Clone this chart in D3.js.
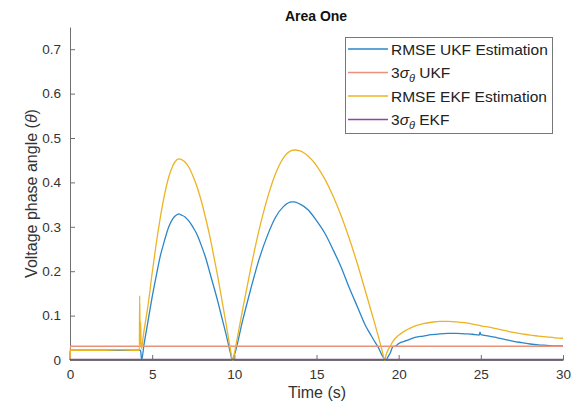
<!DOCTYPE html>
<html>
<head>
<meta charset="utf-8">
<script src="https://cdn.jsdelivr.net/npm/d3@7/dist/d3.min.js"></script>
<style>
  html, body { margin: 0; padding: 0; background: #fff; }
  svg { display: block; font-family: "Liberation Sans", Arial, Helvetica, sans-serif; }
</style>
</head>
<body>
<svg id="chart" width="573" height="403"></svg>
<script>
// Time samples (s) shared by both RMSE traces
const time = [0, 0.02, 1, 2, 3, 4, 4.22, 4.24, 4.27, 4.3, 4.33, 4.36, 4.5, 4.75,
  5.0, 5.25, 5.5, 5.75, 6.0, 6.25, 6.5, 6.63, 6.75, 7.0, 7.25, 7.5, 7.75,
  8.0, 8.25, 8.5, 8.75, 9.0, 9.25, 9.5, 9.75, 9.87, 9.93, 10.0, 10.5, 11.0,
  11.5, 12.0, 12.5, 13.0, 13.5, 13.64, 14.0, 14.5, 15.0, 15.5, 16.0, 16.5,
  17.0, 17.5, 18.0, 18.25, 18.5, 18.75, 19.0, 19.15, 19.22, 19.35, 19.5,
  19.65, 19.8, 20.0, 20.5, 21.0, 21.5, 22.0, 22.5, 23.0, 23.5, 24.0, 24.5,
  24.9, 24.95, 25.0, 25.5, 26.0, 26.5, 27.0, 27.5, 28.0, 28.5, 29.0, 29.5, 30.0];

const rmseUKF = [0, 0.022, 0.022, 0.022, 0.022, 0.022, 0.022, 0.022, 0.022, 0.020, 0.010, 0.000, 0.034, 0.088,
  0.142, 0.190, 0.235, 0.269, 0.299, 0.318, 0.327, 0.329, 0.327, 0.322, 0.312, 0.298, 0.281,
  0.257, 0.231, 0.198, 0.165, 0.131, 0.094, 0.057, 0.018, 0.000, 0.004, 0.011, 0.088, 0.160,
  0.226, 0.279, 0.321, 0.346, 0.356, 0.356, 0.351, 0.338, 0.314, 0.286, 0.249, 0.209,
  0.162, 0.119, 0.076, 0.060, 0.044, 0.029, 0.010, 0.002, 0.000, 0.007, 0.017,
  0.030, 0.031, 0.037, 0.044, 0.051, 0.054, 0.057, 0.059, 0.060, 0.060, 0.059, 0.058,
  0.056, 0.063, 0.057, 0.054, 0.050, 0.046, 0.042, 0.039, 0.036, 0.034, 0.033, 0.032, 0.032];

const rmseEKF = [0, 0.022, 0.022, 0.022, 0.023, 0.022, 0.022, 0.145, 0.035, 0.085, 0.025, 0.028, 0.065, 0.123,
  0.196, 0.263, 0.322, 0.372, 0.411, 0.437, 0.451, 0.453, 0.452, 0.446, 0.433, 0.413, 0.388,
  0.357, 0.320, 0.280, 0.234, 0.186, 0.134, 0.081, 0.026, 0.002, 0.000, 0.014, 0.113, 0.207,
  0.292, 0.363, 0.419, 0.456, 0.472, 0.473, 0.471, 0.459, 0.438, 0.408, 0.370, 0.325,
  0.273, 0.215, 0.152, 0.120, 0.088, 0.055, 0.020, 0.000, 0.010, 0.022, 0.032,
  0.042, 0.049, 0.056, 0.068, 0.077, 0.082, 0.085, 0.087, 0.087, 0.086, 0.084, 0.081,
  0.078, 0.078, 0.077, 0.074, 0.070, 0.066, 0.062, 0.059, 0.056, 0.054, 0.052, 0.050, 0.049];

// 3-sigma bounds (constant after start-up)
const sigmaTime = [0, 0.02, 30];
const sigmaUKF = [0, 0.031, 0.031];
const sigmaEKF = [0, 0.0015, 0.0015];

const xTicks = [0, 5, 10, 15, 20, 25, 30];
const yTicks = [0, 0.1, 0.2, 0.3, 0.4, 0.5, 0.6, 0.7];

const seriesNames = ["RMSE UKF Estimation", "3σθ UKF", "RMSE EKF Estimation", "3σθ EKF"];
const seriesColors = ["#2a86c8", "#ea917a", "#ecb425", "#8a4a9a"];

const svg = d3.select("#chart");
const x = d3.scaleLinear().domain([0, 30]).range([70, 563]);
const y = d3.scaleLinear().domain([0, 0.75]).range([360, 27]);

// axes (left and bottom only, ticks pointing inward)
const axisColor = "#707070";
const gx = svg.append("g").attr("transform", `translate(0,${y(0)})`)
  .call(d3.axisBottom(x).tickValues(xTicks).tickSizeInner(-5).tickSizeOuter(0).tickPadding(9)
    .tickFormat(d3.format("d")));
const gy = svg.append("g").attr("transform", `translate(${x(0)},0)`)
  .call(d3.axisLeft(y).tickValues(yTicks).tickSizeInner(-5).tickSizeOuter(0).tickPadding(9)
    .tickFormat(d => d === 0 ? "0" : d3.format(".1f")(d)));
[gx, gy].forEach(g => {
  g.select(".domain").attr("stroke", axisColor).attr("stroke-width", 1);
  g.selectAll(".tick line").attr("stroke", axisColor);
  g.selectAll(".tick text").attr("fill", "#333").attr("font-size", 13.5);
});

const line = d3.line().curve(d3.curveMonotoneX);
function draw(ts, vs, color) {
  svg.append("path")
    .attr("d", line(ts.map((t, i) => [x(t), y(vs[i])])))
    .attr("fill", "none").attr("stroke", color).attr("stroke-width", 1.3)
    .attr("stroke-linejoin", "round");
}
draw(time, rmseUKF, seriesColors[0]);
draw(sigmaTime, sigmaUKF, seriesColors[1]);
draw(time, rmseEKF, seriesColors[2]);
draw(sigmaTime, sigmaEKF, seriesColors[3]);

// title and axis labels
svg.append("text").attr("x", 316).attr("y", 21).attr("text-anchor", "middle")
  .attr("font-size", 14).attr("font-weight", "bold").attr("fill", "#111").text("Area One");
svg.append("text").attr("x", 317).attr("y", 398).attr("text-anchor", "middle")
  .attr("font-size", 16).attr("fill", "#333").text("Time (s)");
const yl = svg.append("text").attr("transform", `translate(37,193.5) rotate(-90)`)
  .attr("text-anchor", "middle").attr("font-size", 16).attr("fill", "#333");
yl.append("tspan").text("Voltage phase angle (");
yl.append("tspan").attr("font-style", "italic").text("θ");
yl.append("tspan").text(")");

// legend
const lg = svg.append("g");
lg.append("rect").attr("x", 345.5).attr("y", 37.5).attr("width", 207).attr("height", 96)
  .attr("fill", "#fff").attr("stroke", "#777").attr("stroke-width", 1);
const rowY = [49, 72.5, 96, 119.5];
seriesNames.forEach((name, i) => {
  lg.append("line").attr("x1", 348).attr("x2", 388).attr("y1", rowY[i]).attr("y2", rowY[i])
    .attr("stroke", seriesColors[i]).attr("stroke-width", 1.3);
  const t = lg.append("text").attr("x", 391).attr("y", rowY[i] + 5.5)
    .attr("font-size", 15.5).attr("fill", "#222");
  if (name.startsWith("3σθ")) {
    t.append("tspan").text("3");
    t.append("tspan").attr("font-style", "italic").text("σ");
    t.append("tspan").attr("font-style", "italic").attr("font-size", 11).attr("dy", 4).text("θ");
    t.append("tspan").attr("dy", -4).text(" " + name.slice(4));
  } else {
    t.text(name);
  }
});
</script>
</body>
</html>
